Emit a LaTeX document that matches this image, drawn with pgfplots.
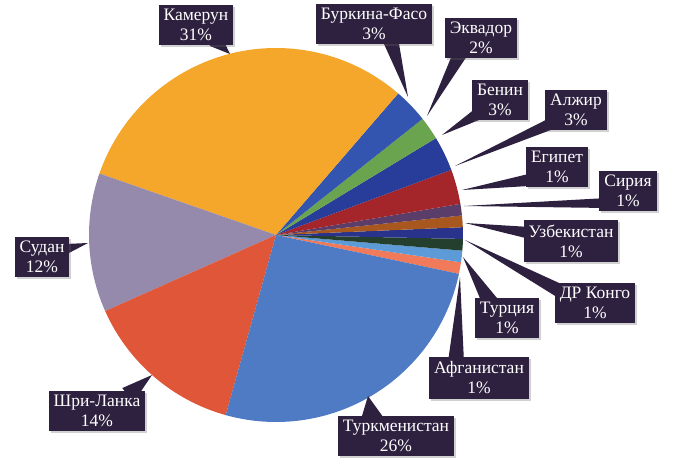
\documentclass[border=0pt]{standalone}
\usepackage{pgfplots}
\pgfplotsset{compat=1.18}
\usepackage{pgfplotstable}
\usepackage{fontspec}
\setmainfont{Liberation Serif}
\newfontfamily\lblfont{Liberation Serif}
\usetikzlibrary{calc,shadows}

\definecolor{cAfg}{HTML}{F07A5A}
\definecolor{cTur}{HTML}{5D9BD8}
\definecolor{cDRC}{HTML}{253F2E}
\definecolor{cUzb}{HTML}{2A338C}
\definecolor{cSyr}{HTML}{A8581E}
\definecolor{cEgy}{HTML}{5B3D6A}
\definecolor{cAlg}{HTML}{A4262B}
\definecolor{cBen}{HTML}{283C99}
\definecolor{cEcu}{HTML}{6AA44F}
\definecolor{cBur}{HTML}{3355AF}
\definecolor{cCam}{HTML}{F5A72B}
\definecolor{cSud}{HTML}{9589AC}
\definecolor{cSri}{HTML}{E05638}
\definecolor{cTkm}{HTML}{4E7BC3}
\definecolor{boxc}{HTML}{2E2140}

% name, share (%), colour, pointer base (bx,by), pointer tip (tx,ty), half width w, label centre (lx,ly)
\pgfplotstableread[col sep=comma]{
name,value,col,bx,by,tx,ty,w,lx,ly
Афганистан,1,cAfg,456,362,460,277,8,479,378
Турция,1,cTur,490,302,463,257,8,507,318
ДР Конго,1,cDRC,562,292,465,240,7,595,303
Узбекистан,1,cUzb,530,233,465,223,6,571,241
Сирия,1,cSyr,607,203,464,206,5,628,191
Египет,1,cEgy,529,180,462,190,6,557,167
Алжир,3,cAlg,555,122,455,166,6,576,110
Бенин,3,cBen,478,114,442,135,6,500,100
Эквадор,2,cEcu,460,54,427,116,7,481,38
Буркина-Фасо,3,cBur,390,38,408,97,8,374,24
Камерун,31,cCam,215,40,230,54,8,196,25
Судан,12,cSud,62,250,88,243,6,42,257
Шри-Ланка,14,cSri,128,395,152,375,9,97,411
Туркменистан,26,cTkm,372,420,368,396,12,396,436
}\piedata

\begin{document}
\begin{tikzpicture}
\begin{axis}[
  width=674pt, height=463pt, scale only axis,
  xmin=0, xmax=674, ymin=0, ymax=463, y dir=reverse,
  hide axis, clip=false]
\def\astart{-12}
\pgfplotsforeachungrouped \i in {0,...,13}{%
  \pgfplotstablegetelem{\i}{value}\of\piedata \let\v\pgfplotsretval
  \pgfplotstablegetelem{\i}{col}\of\piedata \let\c\pgfplotsretval
  \pgfmathsetmacro\aend{\astart+3.6*\v}%
  \edef\cmd{\noexpand\fill[\c] (axis cs:276,235) -- ++(\astart:187pt) arc[start angle=\astart, end angle=\aend, radius=187pt] -- cycle;}%
  \cmd
  \let\astart\aend
}
\pgfplotsforeachungrouped \i in {0,...,13}{%
  \pgfplotstablegetelem{\i}{bx}\of\piedata \let\bx\pgfplotsretval
  \pgfplotstablegetelem{\i}{by}\of\piedata \let\by\pgfplotsretval
  \pgfplotstablegetelem{\i}{tx}\of\piedata \let\tx\pgfplotsretval
  \pgfplotstablegetelem{\i}{ty}\of\piedata \let\ty\pgfplotsretval
  \pgfplotstablegetelem{\i}{w}\of\piedata \let\w\pgfplotsretval
  \edef\cmd{\noexpand\fill[boxc] (\noexpand$(axis cs:\bx,\by)!\w pt!90:(axis cs:\tx,\ty)\noexpand$) -- (axis cs:\tx,\ty) -- (\noexpand$(axis cs:\bx,\by)!\w pt!-90:(axis cs:\tx,\ty)\noexpand$) -- cycle;}%
  \cmd
}
\pgfplotsforeachungrouped \i in {0,...,13}{%
  \pgfplotstablegetelem{\i}{name}\of\piedata \let\nm\pgfplotsretval
  \pgfplotstablegetelem{\i}{value}\of\piedata \let\v\pgfplotsretval
  \pgfplotstablegetelem{\i}{lx}\of\piedata \let\lx\pgfplotsretval
  \pgfplotstablegetelem{\i}{ly}\of\piedata \let\ly\pgfplotsretval
  \edef\cmd{\noexpand\node[fill=boxc, text=white, align=center, inner xsep=5pt, inner ysep=4.5pt,
     drop shadow={shadow xshift=2pt, shadow yshift=-2pt, opacity=0.3, fill=black!60},
     font=\noexpand\lblfont\noexpand\fontsize{17.5}{20}\noexpand\selectfont]
     at (axis cs:\lx,\ly) {\nm\noexpand\\\v\noexpand\%};}%
  \cmd
}
\end{axis}
\pgfresetboundingbox
\path (0,0) rectangle (674pt,463pt);
\end{tikzpicture}
\end{document}
